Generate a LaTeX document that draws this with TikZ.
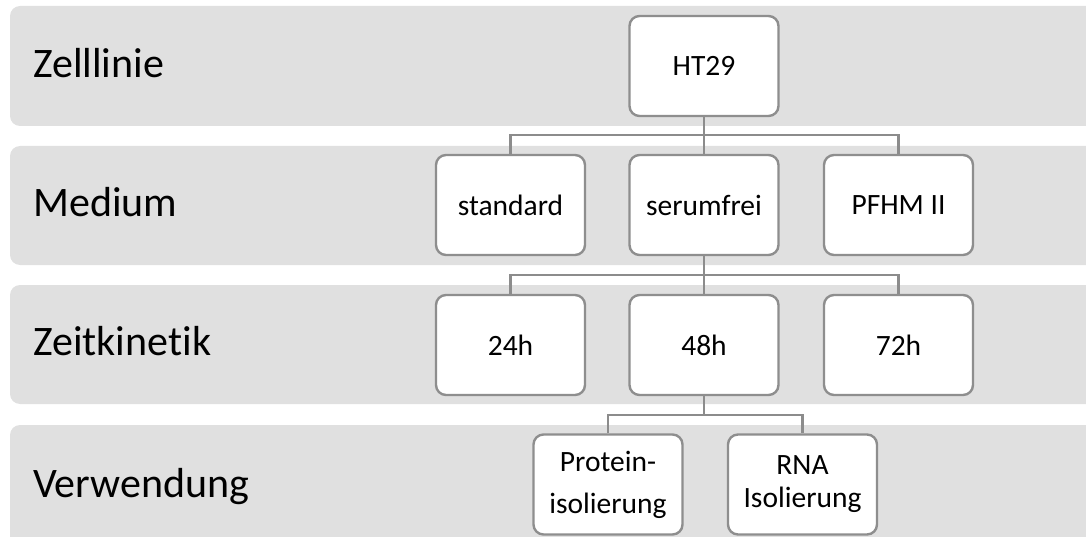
\documentclass[tikz,border=0pt]{standalone}
\usepackage{fontspec}
\setmainfont{Carlito}[Ligatures={NoCommon}]
\definecolor{bandgray}{HTML}{E0E0E0}
\definecolor{boxgray}{HTML}{8E8E8E}
\definecolor{linegray}{HTML}{8C8C8C}
\begin{document}
\begin{tikzpicture}[x=1pt,y=-1pt,
  band/.style={fill=bandgray, rounded corners=10pt},
  item/.style={draw=boxgray, line width=2.4pt, fill=white, rounded corners=10pt,
    minimum width=149pt, minimum height=100pt, inner sep=0pt, align=center,
    font=\fontsize{29.5}{33}\selectfont},
  rowlabel/.style={anchor=base west, inner sep=0pt, font=\fontsize{42}{50}\selectfont},
  link/.style={draw=linegray, line width=2.8pt}]
\useasboundingbox (0,0) rectangle (1086,537);

% background rows
\begin{scope}
  \clip (0,0) rectangle (1086,537);
  \fill[band] (10,6)   rectangle (1110,126);
  \fill[band] (10,146) rectangle (1110,265);
  \fill[band] (10,285) rectangle (1110,404);
  \fill[band] (10,425) rectangle (1110,560);
\end{scope}

% row titles
\node[rowlabel] (l1) at (33,78)  {Zelllinie};
\node[rowlabel] (l2) at (33,217) {Medium};
\node[rowlabel] (l3) at (33,355) {Zeitkinetik};
\node[rowlabel] (l4) at (33,497) {Verwendung};

% junction points of the tree
\coordinate (j1) at (704,135);
\coordinate (j2) at (704,275);
\coordinate (j3) at (704,415);

% boxes
\node[item] (ht)  at (704,66)    {HT29};
\node[item] (std) at (510.5,205) {standard};
\node[item] (ser) at (704,205)   {serumfrei};
\node[item] (pf)  at (898.5,205) {PFHM II};
\node[item] (h24) at (510.5,345) {24h};
\node[item] (h48) at (704,345)   {48h};
\node[item] (h72) at (898.5,345) {72h};
\node[item] (pro) at (608,484.5) {Protein-\\[9pt]isolierung};
\node[item] (rna) at (802.5,484.5) {RNA\\Isolierung};

% connectors
\draw[link] (ht.south) -- (ser.north);
\draw[link] (std.north) |- (j1) -| (pf.north);
\draw[link] (ser.south) -- (h48.north);
\draw[link] (h24.north) |- (j2) -| (h72.north);
\draw[link] (h48.south) -- (j3);
\draw[link] (pro.north) |- (j3) -| (rna.north);
\end{tikzpicture}
\end{document}
